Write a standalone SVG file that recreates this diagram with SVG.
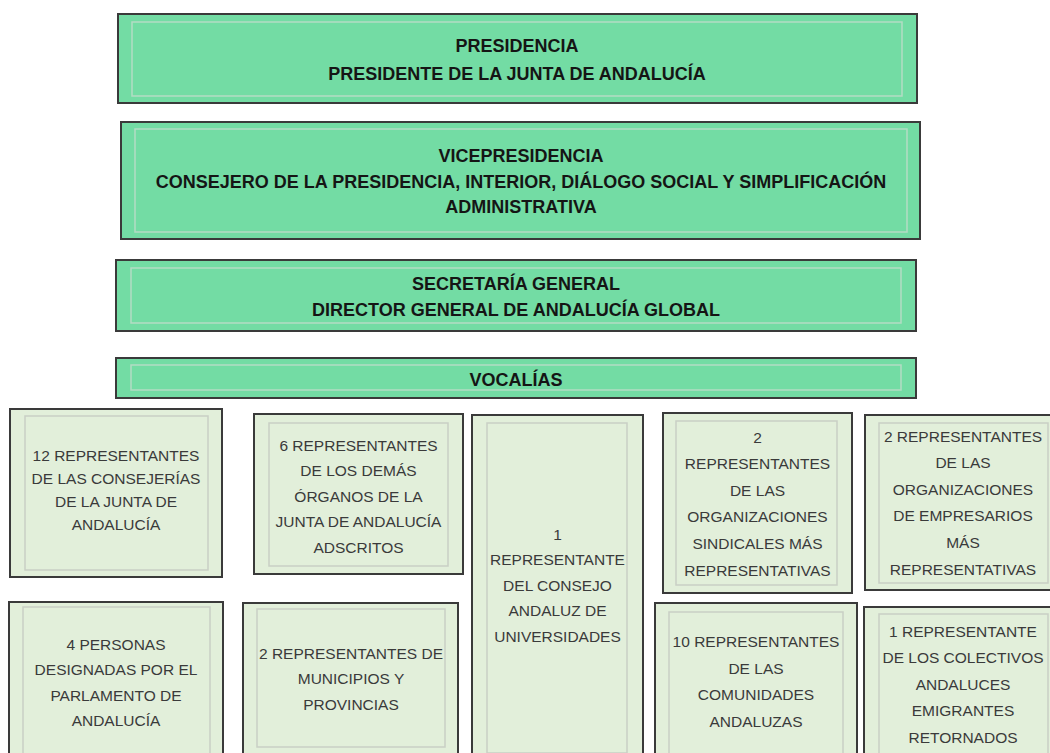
<svg xmlns="http://www.w3.org/2000/svg" width="1050" height="753" viewBox="0 0 1050 753">
<style>
.top{fill:#73dca4;stroke:#3a3a3a;stroke-width:2}
.topin{fill:none;stroke:#b4dcc4;stroke-width:1.5}
.low{fill:#e2efda;stroke:#3a3a3a;stroke-width:2}
.lowin{fill:none;stroke:#c9cfc5;stroke-width:1.5}
.tt{font-family:"Liberation Sans",Arial,sans-serif;font-weight:bold;font-size:18px;fill:#151515;text-anchor:middle}
.lt{font-family:"Liberation Sans",Arial,sans-serif;font-size:15.5px;fill:#3a3a3a;text-anchor:middle}
</style>
<rect width="1050" height="753" fill="#ffffff"/>
<g id="connectors"/>
<g id="presidencia">
<rect class="top" x="118" y="14" width="799" height="89"/>
<rect class="topin" x="132" y="22" width="770" height="74"/>
<text class="tt" x="517" y="51.5">PRESIDENCIA</text>
<text class="tt" x="517" y="79.5">PRESIDENTE DE LA JUNTA DE ANDALUCÍA</text>
</g>
<g id="vicepresidencia">
<rect class="top" x="121" y="122" width="799" height="117"/>
<rect class="topin" x="135" y="129" width="772" height="103"/>
<text class="tt" x="521" y="161.5">VICEPRESIDENCIA</text>
<text class="tt" x="521" y="187.5">CONSEJERO DE LA PRESIDENCIA, INTERIOR, DIÁLOGO SOCIAL  Y SIMPLIFICACIÓN</text>
<text class="tt" x="521" y="213">ADMINISTRATIVA</text>
</g>
<g id="secretaria">
<rect class="top" x="116" y="260" width="800" height="71"/>
<rect class="topin" x="131" y="268" width="770" height="55"/>
<text class="tt" x="516" y="289.5">SECRETARÍA GENERAL</text>
<text class="tt" x="516" y="315.5">DIRECTOR GENERAL DE ANDALUCÍA GLOBAL</text>
</g>
<g id="vocalias">
<rect class="top" x="116" y="358" width="800" height="40"/>
<rect class="topin" x="131" y="365" width="770" height="25"/>
<text class="tt" x="516" y="385.5">VOCALÍAS</text>
</g>
<g id="consejerias">
<rect class="low" x="10" y="409" width="212" height="168"/>
<rect class="lowin" x="25" y="416" width="183" height="154"/>
<text class="lt" x="116"><tspan x="116" y="460.6">12 REPRESENTANTES</tspan><tspan x="116" y="483.6">DE LAS CONSEJERÍAS</tspan><tspan x="116" y="506.6">DE LA JUNTA DE</tspan><tspan x="116" y="529.6">ANDALUCÍA</tspan></text>
</g>
<g id="organos">
<rect class="low" x="254" y="414" width="209" height="160"/>
<rect class="lowin" x="269" y="423" width="179" height="143"/>
<text class="lt"><tspan x="358.5" y="450.6">6 REPRESENTANTES</tspan><tspan x="358.5" y="476.1">DE LOS DEMÁS</tspan><tspan x="358.5" y="501.6">ÓRGANOS DE LA</tspan><tspan x="358.5" y="527.1">JUNTA DE ANDALUCÍA</tspan><tspan x="358.5" y="552.6">ADSCRITOS</tspan></text>
</g>
<g id="universidades">
<rect class="low" x="472" y="415" width="171" height="350"/>
<rect class="lowin" x="487" y="423" width="140" height="330"/>
<text class="lt"><tspan x="557.5" y="539.6">1</tspan><tspan x="557.5" y="565.1">REPRESENTANTE</tspan><tspan x="557.5" y="590.6">DEL CONSEJO</tspan><tspan x="557.5" y="616.1">ANDALUZ DE</tspan><tspan x="557.5" y="641.6">UNIVERSIDADES</tspan></text>
</g>
<g id="sindicales">
<rect class="low" x="663" y="413" width="189" height="180"/>
<rect class="lowin" x="676" y="421" width="161" height="164"/>
<text class="lt"><tspan x="757.5" y="442.6">2</tspan><tspan x="757.5" y="469.2">REPRESENTANTES</tspan><tspan x="757.5" y="495.8">DE LAS</tspan><tspan x="757.5" y="522.4">ORGANIZACIONES</tspan><tspan x="757.5" y="549">SINDICALES MÁS</tspan><tspan x="757.5" y="575.6">REPRESENTATIVAS</tspan></text>
</g>
<g id="empresarios">
<rect class="low" x="865" y="415" width="197" height="175"/>
<rect class="lowin" x="879" y="423" width="169" height="160"/>
<text class="lt"><tspan x="963" y="441.6">2 REPRESENTANTES</tspan><tspan x="963" y="468.2">DE LAS</tspan><tspan x="963" y="494.8">ORGANIZACIONES</tspan><tspan x="963" y="521.4">DE EMPRESARIOS</tspan><tspan x="963" y="548">MÁS</tspan><tspan x="963" y="574.6">REPRESENTATIVAS</tspan></text>
</g>
<g id="parlamento">
<rect class="low" x="9" y="602" width="214" height="165"/>
<rect class="lowin" x="23" y="607" width="187" height="150"/>
<text class="lt"><tspan x="116" y="649.6">4 PERSONAS</tspan><tspan x="116" y="675.1">DESIGNADAS POR EL</tspan><tspan x="116" y="700.6">PARLAMENTO DE</tspan><tspan x="116" y="726.1">ANDALUCÍA</tspan></text>
</g>
<g id="municipios">
<rect class="low" x="243" y="603" width="215" height="160"/>
<rect class="lowin" x="257" y="609" width="188" height="138"/>
<text class="lt"><tspan x="351" y="658.6">2 REPRESENTANTES DE</tspan><tspan x="351" y="684.1">MUNICIPIOS Y</tspan><tspan x="351" y="709.6">PROVINCIAS</tspan></text>
</g>
<g id="comunidades">
<rect class="low" x="655" y="603" width="202" height="165"/>
<rect class="lowin" x="669" y="612" width="174" height="150"/>
<text class="lt"><tspan x="756" y="647.1">10 REPRESENTANTES</tspan><tspan x="756" y="673.6">DE LAS</tspan><tspan x="756" y="700.1">COMUNIDADES</tspan><tspan x="756" y="726.6">ANDALUZAS</tspan></text>
</g>
<g id="emigrantes">
<rect class="low" x="864" y="607" width="198" height="160"/>
<rect class="lowin" x="879" y="614" width="169" height="145"/>
<text class="lt"><tspan x="963" y="636.6">1 REPRESENTANTE</tspan><tspan x="963" y="663.1">DE LOS COLECTIVOS</tspan><tspan x="963" y="689.6">ANDALUCES</tspan><tspan x="963" y="716.1">EMIGRANTES</tspan><tspan x="963" y="742.6">RETORNADOS</tspan></text>
</g>
</svg>
